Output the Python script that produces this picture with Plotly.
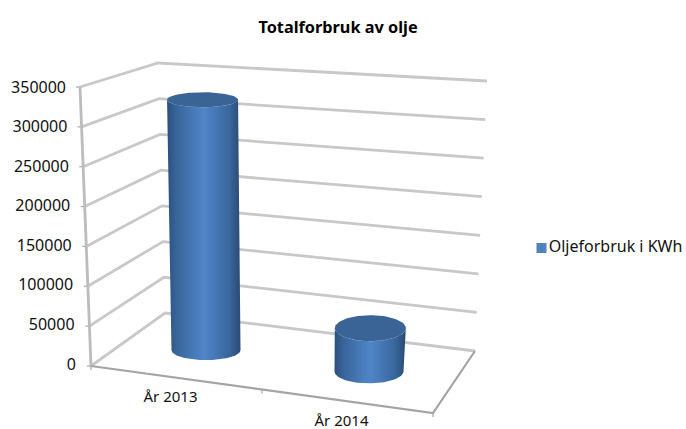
import numpy as np
import plotly.graph_objects as go

categories = ["År 2013", "År 2014"]
oil_use = [325000, 54000]
y_ticks = [0, 50000, 100000, 150000, 200000, 250000, 300000, 350000]
series_name = "Oljeforbruk i KWh"
title = "Totalforbruk av olje"

Y_MAX = 350000
FONT = "Noto Sans"
W, H = 686, 429

# oblique box geometry, in screen-like x and fraction of the value axis
FL0, FL1 = (91, 366), (80, 87)
BL0, BL1 = (165, 313), (158, 63)
BR0, BR1 = (475, 351), (487, 81)
FR0, FR1 = (433, 413), (441, 113)


def to_v(py):
    return (FL0[1] - py) * Y_MAX / (FL0[1] - FL1[1])


def lerp(a, b, t):
    return (a[0] + (b[0] - a[0]) * t, a[1] + (b[1] - a[1]) * t)


def corner(c0, c1, value):
    return lerp(c0, c1, value / Y_MAX)


def project(u, w, value):
    f = lerp(corner(FL0, FL1, value), corner(FR0, FR1, value), u)
    b = lerp(corner(BL0, BL1, value), corner(BR0, BR1, value), u)
    return lerp(f, b, w)


fig = go.Figure()


def line(points, color, width):
    fig.add_trace(go.Scatter(
        x=[p[0] for p in points], y=[to_v(p[1]) for p in points],
        mode="lines", line=dict(color=color, width=width, simplify=False),
        showlegend=False, hoverinfo="skip"))


GRID = "#c8c8c8"
for t in y_ticks:
    line([corner(FL0, FL1, t), corner(BL0, BL1, t), corner(BR0, BR1, t)], GRID, 2.8)
    p = corner(FL0, FL1, t)
    line([(p[0] - 4, p[1]), p], "#a8a8a8", 1.2)

line([FL0, FL1], "#bcbcbc", 2.8)
line([FL0, FR0, BR0], "#a4a4a4", 2.2)
mid = lerp(FL0, FR0, 0.5)
line([mid, (mid[0], mid[1] + 4)], "#a4a4a4", 1.2)
line([FR0, (FR0[0], FR0[1] + 4)], "#a4a4a4", 1.2)
line([FL0, (FL0[0], FL0[1] + 4)], "#a4a4a4", 1.2)

# value-axis labels follow the slanted axis
lab = [corner((89, 365.5), (79, 88.5), t) for t in y_ticks]
fig.add_trace(go.Scatter(
    x=[p[0] - 13 for p in lab], y=[to_v(p[1]) for p in lab],
    text=[str(t) for t in y_ticks], mode="text", textposition="middle left",
    textfont=dict(family=FONT, size=16, color="#111111"),
    showlegend=False, hoverinfo="skip"))

# category labels sit under the front edge
us = [(i + 0.5) / len(categories) for i in range(len(categories))]
cat_pts = [lerp(FL0, FR0, u) for u in us]
fig.add_trace(go.Scatter(
    x=[p[0] - 6 for p in cat_pts], y=[to_v(p[1] + 20.5) for p in cat_pts],
    text=categories, mode="text", textposition="middle center", cliponaxis=False,
    textfont=dict(family=FONT, size=15, color="#111111"),
    showlegend=False, hoverinfo="skip"))

BODY = [[0, "#2b4f7e"], [0.12, "#386499"], [0.5, "#4f86c8"], [0.85, "#39669c"], [1, "#2a4a72"]]
ry_base = [10.0, 12.0]
ry_top = [7.5, 13.0]
th = np.linspace(0, np.pi, 60)

for u, val, r0, r1 in zip(us, oil_use, ry_base, ry_top):
    cb = project(u, 0.5, 0)
    ct = project(u, 0.5, val)
    cb = (cb[0] - 3.5, cb[1])
    ct = (ct[0] - 3, ct[1])
    rxb, rxt = 34.5, 35.5
    # body: left edge up, top front arc, right edge down, bottom front arc
    xs = list(cb[0] - rxb * np.cos(th))
    ys = list(cb[1] + r0 * np.sin(th))
    xs += list(ct[0] + rxt * np.cos(th))
    ys += list(ct[1] + r1 * np.sin(th))
    fig.add_trace(go.Scatter(
        x=xs, y=[to_v(y) for y in ys], mode="lines", fill="toself",
        line=dict(width=0), showlegend=False, hoverinfo="skip",
        fillgradient=dict(type="horizontal", colorscale=BODY,
                          start=min(cb[0] - rxb, ct[0] - rxt),
                          stop=max(cb[0] + rxb, ct[0] + rxt))))
    t2 = np.linspace(0, 2 * np.pi, 100)
    fig.add_trace(go.Scatter(
        x=ct[0] + rxt * np.cos(t2), y=[to_v(y) for y in ct[1] + r1 * np.sin(t2)],
        mode="lines", fill="toself", fillcolor="#3a6396",
        line=dict(width=0), showlegend=False, hoverinfo="skip"))

# legend entry, placed beside the chart
fig.add_trace(go.Scatter(
    x=[541.5], y=[to_v(248)], mode="markers+text", text=[series_name],
    textposition="middle right",
    textfont=dict(family=FONT, size=16, color="#111111"),
    marker=dict(symbol="square", size=10, color="#4f81bd"),
    showlegend=False, hoverinfo="skip"))

fig.update_layout(
    width=W, height=H, autosize=False,
    margin=dict(l=0, r=0, t=0, b=0),
    paper_bgcolor="white", plot_bgcolor="white",
    title=dict(text=f"<b>{title}</b>", x=338 / W, y=1 - 27.5 / H, xanchor="center", yanchor="middle",
               font=dict(family=FONT, size=16.3, color="#000000")),
    xaxis=dict(visible=False, range=[0, W], fixedrange=True),
    yaxis=dict(visible=False, range=[to_v(H), to_v(0)], fixedrange=True),
    showlegend=False,
)
fig.write_html("out.html", config={"displayModeBar": False},
               post_script="document.body.style.margin='0';document.body.style.overflow='hidden';")
